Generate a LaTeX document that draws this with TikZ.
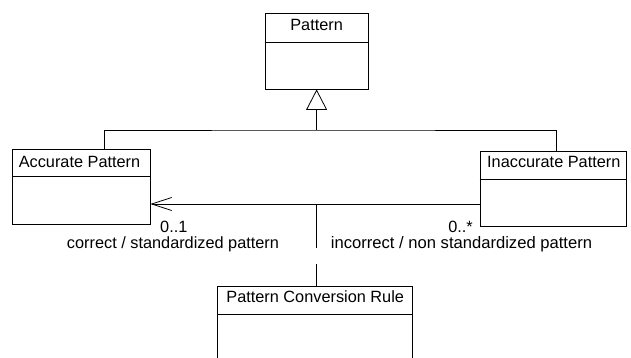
\documentclass[tikz,border=0pt]{standalone}
\usepackage{fontspec}
\setmainfont{Liberation Sans}
\usetikzlibrary{arrows.meta}
\tikzset{
  cls/.style={draw=black, line width=0.8pt, fill=none, inner sep=0pt},
  ttl/.style={inner sep=0pt, anchor=base},
  lbl/.style={inner sep=0pt},
  conn/.style={draw=black, line width=0.8pt},
  gen/.style={conn, -{Triangle[open,length=20.5pt,width=21pt]}},
  nav/.style={conn, -{Straight Barb[length=20pt,width=13pt]}}
}
\begin{document}
\begin{tikzpicture}[x=1pt,y=-1pt,font=\fontsize{16.3}{19}\selectfont]
\useasboundingbox (0,0) rectangle (631,358);
\clip (0,0) rectangle (631,358);
% classes
\node[cls, minimum width=103pt, minimum height=76pt] (pat) at (316.6,51) {};
\draw[conn] (pat.west |- 0,42) -- (pat.east |- 0,42);
\node[ttl] (patT) at (316.6,31) {Pattern};

\node[cls, minimum width=137.3pt, minimum height=75.3pt] (acc) at (81.35,186.65) {};
\draw[conn] (acc.west |- 0,176.7) -- (acc.east |- 0,176.7);
\node[ttl] (accT) at (79.5,167.3) {Accurate Pattern};

\node[cls, minimum width=146pt, minimum height=75.7pt] (ina) at (553,188.85) {};
\draw[conn] (ina.west |- 0,179.3) -- (ina.east |- 0,179.3);
\node[ttl] (inaT) at (553.8,167.8) {Inaccurate Pattern};

\node[cls, minimum width=195pt, minimum height=100pt] (rule) at (315.2,336.7) {};
\draw[conn] (rule.west |- 0,314.3) -- (rule.east |- 0,314.3);
\node[ttl] (ruleT) at (315.2,302.3) {Pattern Conversion Rule};

% generalization
\coordinate (hub) at (316.6,130);
\coordinate (accUp) at (104,149);
\coordinate (inaUp) at (556,151);
\draw[gen] (hub) -- (pat.south);
\draw[conn] (accUp) |- (hub) -| (inaUp);

% association
\coordinate (mid) at (316.7,204);
\draw[nav] (ina.west |- mid) -- (acc.east |- mid);
\coordinate (gapTop) at (316.7,248);
\coordinate (gapBot) at (316.7,264);
\draw[conn] (mid) -- (gapTop);
\draw[conn] (gapBot) -- (rule.north -| mid);

% labels
\node[lbl, anchor=base west] (m1) at (160,232.3) {0..1};
\node[lbl, anchor=base] (r1) at (173,248.3) {correct / standardized pattern};
\node[lbl, anchor=base east] (m2) at (473,232.3) {0..*};
\node[lbl, anchor=base] (r2) at (461.5,248.3) {\fontsize{16.6}{19}\selectfont incorrect / non standardized pattern};
\end{tikzpicture}
\end{document}
